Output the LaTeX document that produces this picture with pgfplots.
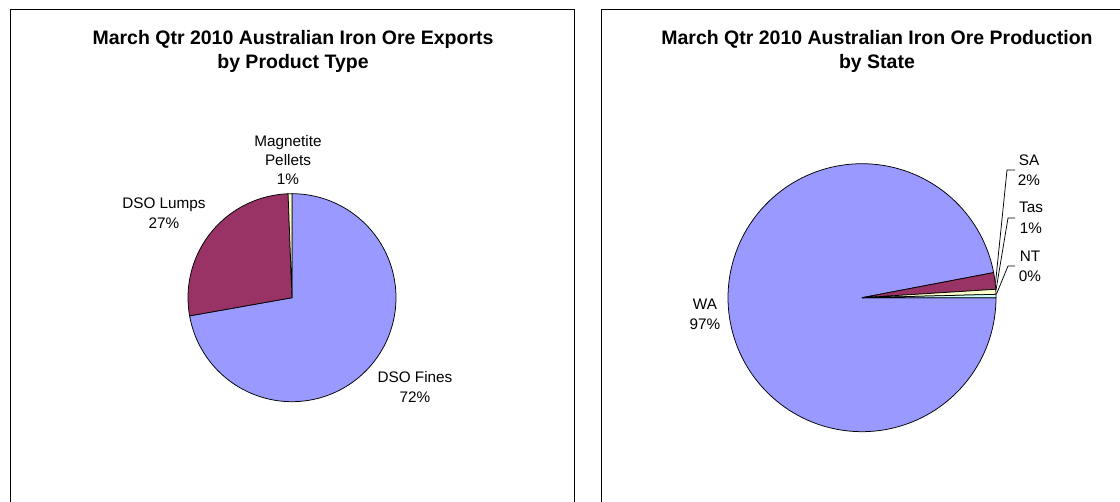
\documentclass[border=0pt]{standalone}
\usepackage{fontspec}
\setmainfont{Liberation Sans}
\usepackage{pgfplots}
\pgfplotsset{compat=1.18}
\definecolor{pieA}{HTML}{9999FF}
\definecolor{pieB}{HTML}{993366}
\definecolor{pieC}{HTML}{FFFFCC}
\definecolor{pieD}{HTML}{CCFFFF}

% ---- data (percent) ----
% Exports by product type
\def\finesV{72.2}
\def\lumpsV{27.2}
\def\magV{0.6}
% Production by state
\def\waV{97.0}
\def\saV{2.0}
\def\tasV{0.6}
\def\ntV{0.4}

\begin{document}
\begin{tikzpicture}[
  lbl/.style={anchor=base, font=\fontsize{15.3bp}{18bp}\selectfont},
  ttl/.style={anchor=base, font=\fontsize{19.5bp}{23.5bp}\selectfont\bfseries}]
\useasboundingbox (0,0) rectangle (1120bp,502bp);
\clip (0,0) rectangle (1120bp,502bp);

% angles (start at 12 o'clock / 3 o'clock, clockwise)
\pgfmathsetmacro\La{90}
\pgfmathsetmacro\Lb{\La-3.6*\finesV}
\pgfmathsetmacro\Lc{\Lb-3.6*\lumpsV}
\pgfmathsetmacro\Ld{\Lc-3.6*\magV}
\pgfmathsetmacro\Ra{360}
\pgfmathsetmacro\Rb{\Ra-3.6*\waV}
\pgfmathsetmacro\Rc{\Rb-3.6*\saV}
\pgfmathsetmacro\Rd{\Rc-3.6*\tasV}
\pgfmathsetmacro\Re{\Rd-3.6*\ntV}

% frames
\draw[line width=1bp] (10bp,-20bp) -- (10bp,492bp) -- (574bp,492bp) -- (574bp,-20bp);
\draw[line width=1bp] (601bp,-20bp) -- (601bp,492bp) -- (1153bp,492bp) -- (1153bp,-20bp);

% titles
\node[ttl] at (293bp,457bp) {March Qtr 2010 Australian Iron Ore Exports};
\node[ttl] at (293bp,433.5bp) {by Product Type};
\node[ttl] at (877bp,457bp) {March Qtr 2010 Australian Iron Ore Production};
\node[ttl] at (877bp,433.5bp) {by State};

% left pie
\begin{axis}[at={(292bp,204.3bp)}, anchor=origin, width=208bp, height=208bp,
  scale only axis, xmin=-1, xmax=1, ymin=-1, ymax=1, hide axis, clip=false]
\addplot[fill=pieA, draw=black, line width=0.75bp, domain=\Lb:\La, samples=120, variable=\t]
  ({cos(t)},{sin(t)}) -- (axis cs:0,0) -- cycle;
\addplot[fill=pieB, draw=black, line width=0.75bp, domain=\Lc:\Lb, samples=60, variable=\t]
  ({cos(t)},{sin(t)}) -- (axis cs:0,0) -- cycle;
\addplot[fill=pieC, draw=black, line width=0.75bp, domain=\Ld:\Lc, samples=5, variable=\t]
  ({cos(t)},{sin(t)}) -- (axis cs:0,0) -- cycle;
\end{axis}

% right pie
\begin{axis}[at={(862bp,204.3bp)}, anchor=origin, width=268bp, height=268bp,
  scale only axis, xmin=-1, xmax=1, ymin=-1, ymax=1, hide axis, clip=false]
\addplot[fill=pieA, draw=black, line width=0.75bp, domain=\Rb:\Ra, samples=160, variable=\t]
  ({cos(t)},{sin(t)}) -- (axis cs:0,0) -- cycle;
\addplot[fill=pieB, draw=black, line width=0.75bp, domain=\Rc:\Rb, samples=8, variable=\t]
  ({cos(t)},{sin(t)}) -- (axis cs:0,0) -- cycle;
\addplot[fill=pieC, draw=black, line width=0.75bp, domain=\Rd:\Rc, samples=4, variable=\t]
  ({cos(t)},{sin(t)}) -- (axis cs:0,0) -- cycle;
\addplot[fill=pieD, draw=black, line width=0.75bp, domain=\Re:\Rd, samples=4, variable=\t]
  ({cos(t)},{sin(t)}) -- (axis cs:0,0) -- cycle;
\end{axis}

% left labels
\node[lbl] at (288bp,355bp) {Magnetite};
\node[lbl] at (288bp,336bp) {Pellets};
\node[lbl] at (288bp,317bp) {1\%};
\node[lbl] at (164bp,293bp) {DSO Lumps};
\node[lbl] at (164bp,273bp) {27\%};
\node[lbl] at (415bp,119.3bp) {DSO Fines};
\node[lbl] at (415bp,99bp) {72\%};

% right labels
\node[lbl] at (705bp,192bp) {WA};
\node[lbl] at (705bp,172bp) {97\%};
\node[lbl] at (1029bp,336.3bp) {SA};
\node[lbl] at (1029bp,316bp) {2\%};
\node[lbl] at (1031bp,289bp) {Tas};
\node[lbl] at (1031bp,268bp) {1\%};
\node[lbl] at (1030bp,240.3bp) {NT};
\node[lbl] at (1030bp,220.3bp) {0\%};

% leader lines
\draw[line width=0.75bp] (1015bp,332bp) -- (1007bp,332bp) -- (995.5bp,219bp);
\draw[line width=0.75bp] (1015bp,284bp) -- (1008bp,284bp) -- (996bp,212bp);
\draw[line width=0.75bp] (1015bp,236bp) -- (1008bp,236bp) -- (996.5bp,208bp);
\end{tikzpicture}
\end{document}
